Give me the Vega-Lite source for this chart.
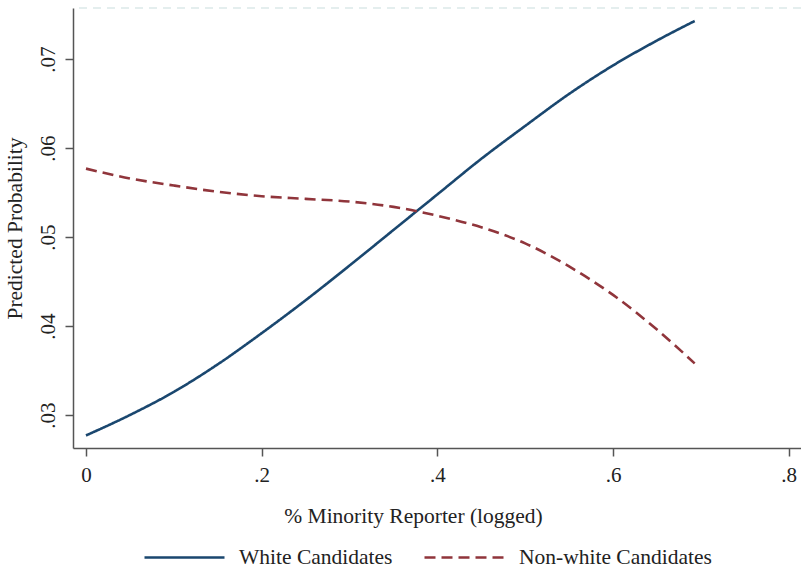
{
  "$schema": "https://vega.github.io/schema/vega-lite/v6.json",
  "autosize": {"type": "none"},
  "width": 728,
  "height": 440,
  "padding": {"left": 73, "top": 8, "right": 0, "bottom": 121},
  "background": "white",
  "config": {
    "view": {"stroke": null},
    "font": "Liberation Serif",
    "axis": {
      "domainColor": "#555555",
      "domainWidth": 1.5,
      "tickColor": "#555555",
      "tickWidth": 1.5,
      "tickSize": 8,
      "grid": false,
      "labelFont": "Liberation Serif",
      "titleFont": "Liberation Serif",
      "labelFontSize": 21,
      "titleFontSize": 21.5,
      "labelColor": "#222222",
      "titleColor": "#222222",
      "titleFontWeight": "normal"
    },
    "legend": {
      "labelFont": "Liberation Serif",
      "labelFontSize": 21.5,
      "labelColor": "#222222",
      "labelLimit": 400
    }
  },
  "data": {
    "values": [
      {"x": 0.0, "p": 0.0277, "group": "White Candidates"},
      {"x": 0.05, "p": 0.0300, "group": "White Candidates"},
      {"x": 0.1, "p": 0.0326, "group": "White Candidates"},
      {"x": 0.15, "p": 0.0357, "group": "White Candidates"},
      {"x": 0.2, "p": 0.0392, "group": "White Candidates"},
      {"x": 0.25, "p": 0.0429, "group": "White Candidates"},
      {"x": 0.3, "p": 0.0468, "group": "White Candidates"},
      {"x": 0.35, "p": 0.0508, "group": "White Candidates"},
      {"x": 0.4, "p": 0.0548, "group": "White Candidates"},
      {"x": 0.45, "p": 0.0588, "group": "White Candidates"},
      {"x": 0.5, "p": 0.0625, "group": "White Candidates"},
      {"x": 0.55, "p": 0.0661, "group": "White Candidates"},
      {"x": 0.6, "p": 0.0693, "group": "White Candidates"},
      {"x": 0.65, "p": 0.0721, "group": "White Candidates"},
      {"x": 0.693, "p": 0.0743, "group": "White Candidates"},
      {"x": 0.0, "p": 0.0577, "group": "Non-white Candidates"},
      {"x": 0.05, "p": 0.0566, "group": "Non-white Candidates"},
      {"x": 0.1, "p": 0.0558, "group": "Non-white Candidates"},
      {"x": 0.15, "p": 0.0551, "group": "Non-white Candidates"},
      {"x": 0.2, "p": 0.0546, "group": "Non-white Candidates"},
      {"x": 0.25, "p": 0.0543, "group": "Non-white Candidates"},
      {"x": 0.3, "p": 0.054, "group": "Non-white Candidates"},
      {"x": 0.35, "p": 0.0534, "group": "Non-white Candidates"},
      {"x": 0.4, "p": 0.0524, "group": "Non-white Candidates"},
      {"x": 0.45, "p": 0.0511, "group": "Non-white Candidates"},
      {"x": 0.5, "p": 0.0493, "group": "Non-white Candidates"},
      {"x": 0.55, "p": 0.0467, "group": "Non-white Candidates"},
      {"x": 0.6, "p": 0.0435, "group": "Non-white Candidates"},
      {"x": 0.65, "p": 0.0396, "group": "Non-white Candidates"},
      {"x": 0.693, "p": 0.0358, "group": "Non-white Candidates"}
    ]
  },
  "layer": [
    {
      "mark": {"type": "rule", "color": "#e4eeee", "strokeWidth": 1.5, "strokeDash": [8, 6]},
      "encoding": {"y": {"datum": 0.07576, "type": "quantitative"}}
    },
    {
      "mark": {"type": "line", "strokeWidth": 2.6, "interpolate": "monotone"},
      "encoding": {
        "x": {
          "field": "x",
          "type": "quantitative",
          "scale": {"domain": [-0.0148, 0.814], "nice": false, "zero": false},
          "axis": {
            "title": "% Minority Reporter (logged)",
            "values": [0, 0.2, 0.4, 0.6, 0.8],
            "labelExpr": "datum.value == 0 ? '0' : replace(format(datum.value, '.1f'), '0.', '.')",
            "labelPadding": 8,
            "titlePadding": 20,
            "titleX": 340,
            "titleAlign": "center",
            "labelFlush": false
          }
        },
        "y": {
          "field": "p",
          "type": "quantitative",
          "scale": {"domain": [0.02629, 0.07576], "nice": false, "zero": false},
          "axis": {
            "title": "Predicted Probability",
            "values": [0.03, 0.04, 0.05, 0.06, 0.07],
            "labelExpr": "replace(format(datum.value, '.2f'), '0.', '.')",
            "labelAngle": -90,
            "labelAlign": "center",
            "labelBaseline": "bottom",
            "labelPadding": 7,
            "titlePadding": 11,
            "labelFlush": false
          }
        },
        "color": {
          "field": "group",
          "type": "nominal",
          "sort": ["White Candidates", "Non-white Candidates"],
          "scale": {"domain": ["White Candidates", "Non-white Candidates"], "range": ["#1a476f", "#90353b"]},
          "legend": {
            "title": null,
            "orient": "none",
            "direction": "horizontal",
            "legendX": 70,
            "legendY": 508,
            "symbolType": "stroke",
            "symbolSize": 6400,
            "symbolStrokeWidth": 2.6,
            "labelOffset": 13,
            "columnPadding": 26
          }
        },
        "strokeDash": {
          "field": "group",
          "type": "nominal",
          "sort": ["White Candidates", "Non-white Candidates"],
          "scale": {"domain": ["White Candidates", "Non-white Candidates"], "range": [[1, 0], [11, 6]]},
          "legend": null
        }
      }
    }
  ]
}
